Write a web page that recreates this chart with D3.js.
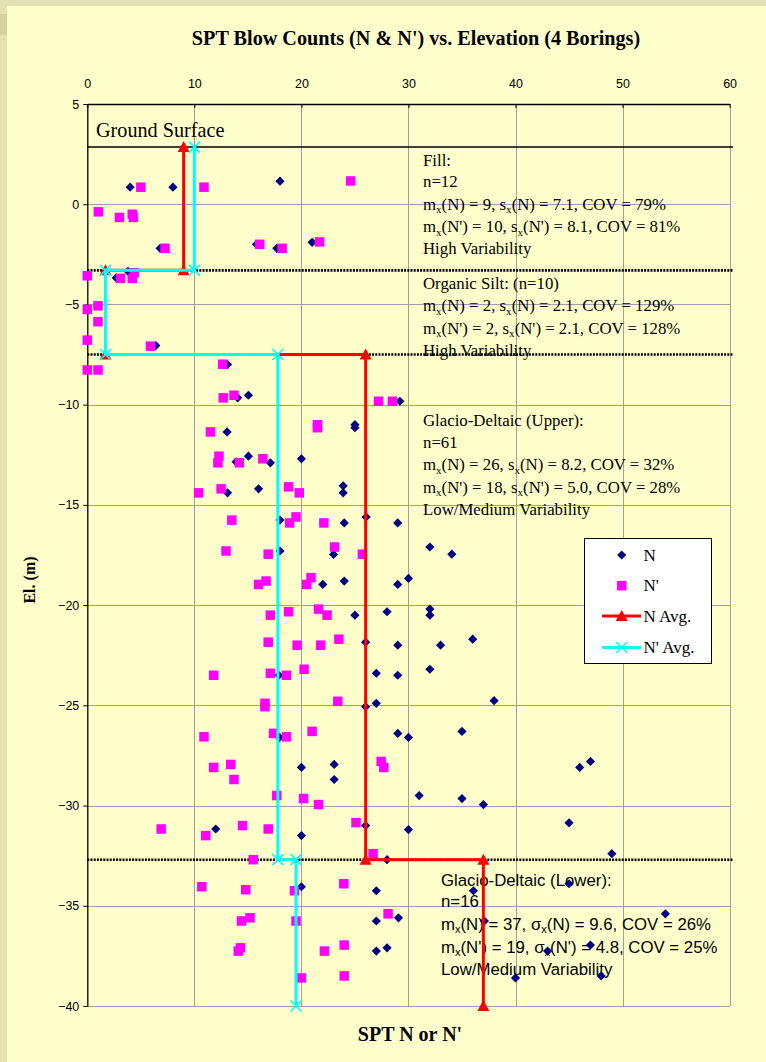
<!DOCTYPE html>
<html>
<head>
<meta charset="utf-8">
<script src="https://cdn.jsdelivr.net/npm/d3@7"></script>
<style>
  html, body { margin: 0; padding: 0; background: #ffffcc; }
  svg { display: block; }
</style>
</head>
<body>
<script>
// SPT blow counts (N, N') against elevation for four borings.
// N: raw blow counts (x) with elevation in metres (y)
const nBlows = [
  4, 8, 18, 21, 6.8, 15.8, 17.7, 2.7, 3.8,
  0, 1, 0, 1, 0, 6.4, 0, 1,
  13.1, 14.05, 15.05, 29.2, 25, 25, 13.06, 15.05, 13.9, 17.1, 20, 13.1, 16, 23.9, 23.9,
  18, 24, 26.05, 29, 32, 18, 23, 34.05, 22, 24, 29, 30, 25, 28, 32, 32, 26, 29, 33, 36,
  17.9, 27, 29, 32, 26, 27, 38, 29, 30, 35, 17.95, 20, 23.06, 23.06, 46, 47, 31, 35, 37,
  12, 20, 26, 30, 45, 49,
  28, 36.07, 45, 37.1, 54, 47, 43, 40, 48, 20, 27, 27, 29.07, 27, 28
];
const nElev = [
  0.85, 0.85, 1.15, -1.9, -2.2, -2.0, -2.2, -3.67, -3.35,
  -3.57, -5.05, -5.25, -5.85, -6.8, -7.05, -8.27, -8.27,
  -8.0, -9.66, -9.53, -9.83, -11.0, -11.15, -11.36, -12.57, -12.85, -12.9, -12.7, -14.4, -14.2, -14.05, -14.4,
  -15.76, -15.9, -15.6, -15.9, -17.1, -17.3, -17.47, -17.46, -18.97, -18.8, -18.97, -18.67, -20.5, -20.33, -20.2, -20.5, -21.85, -22.0, -22.0, -21.7,
  -23.5, -23.4, -23.5, -23.2, -25.07, -24.9, -24.77, -26.4, -26.6, -26.3, -26.6, -28.1, -27.95, -28.7, -28.1, -27.8, -29.5, -29.65, -29.95,
  -31.17, -31.5, -31.0, -31.2, -30.86, -32.4,
  -32.7, -34.25, -33.9, -35.76, -35.4, -36.96, -37.26, -38.6, -38.5, -34.05, -34.25, -35.76, -35.6, -37.26, -37.1
];

// N': corrected blow counts
const nPrimeBlows = [
  5, 10.9, 24.6, 1.03, 3.0, 4.2, 4.3, 7.26, 16.1, 18.2, 21.7,
  4.4, 3.1, 4.2, 0, 1, 0, 1, 0, 5.9, 0, 1,
  12.65, 12.7, 13.7, 27.2, 28.5, 21.5, 21.5, 11.5, 12.3, 12.2, 14.2, 16.4, 10.4, 12.5, 18.8, 19.8,
  13.5, 19.5, 18.9, 22.1, 12.96, 16.9, 23.1, 25.7, 16.7, 16.0, 20.9, 20.5, 17.1, 18.8, 21.6, 22.4,
  16.9, 19.6, 21.8, 23.5, 11.8, 17.1, 18.6, 20.25, 16.6, 16.6, 23.4, 10.9, 17.4, 18.6, 21.0,
  11.8, 13.4, 13.7, 17.7, 20.2, 21.6, 27.45, 27.7, 6.9, 11.06, 14.5, 16.9, 25.1, 26.7,
  15.5, 10.7, 14.8, 19.35, 23.96, 14.4, 15.2, 19.5, 28.1, 14.3, 14.1, 22.15, 24.0, 20.0, 24.0
];
const nPrimeElev = [
  0.85, 0.85, 1.16, -0.38, -0.66, -0.5, -0.66, -2.2, -2.0, -2.2, -1.88,
  -3.42, -3.7, -3.7, -3.57, -5.07, -5.25, -5.86, -6.78, -7.08, -8.27, -8.27,
  -7.98, -9.66, -9.53, -9.83, -9.83, -11.0, -11.15, -11.36, -12.57, -12.9, -12.9, -12.7, -14.4, -14.2, -14.1, -14.4,
  -15.76, -15.6, -15.9, -15.9, -17.3, -17.46, -17.1, -17.46, -18.8, -18.97, -18.63, -18.97, -20.5, -20.33, -20.2, -20.5,
  -21.85, -22.0, -22.0, -21.7, -23.5, -23.4, -23.5, -23.2, -24.9, -25.07, -24.8, -26.57, -26.4, -26.57, -26.3,
  -28.1, -27.95, -28.7, -29.5, -29.65, -29.95, -27.8, -28.1, -31.17, -31.5, -31.0, -31.17, -30.85, -32.4,
  -32.7, -34.05, -34.2, -34.25, -33.9, -35.76, -35.6, -35.76, -35.4, -37.1, -37.26, -37.26, -36.96, -38.6, -38.5
];

// Layer averages drawn as step lines
const avgElev      = [2.85, -3.3, -3.3, -7.5, -7.5, -32.7, -32.7, -40];
const nAvg         = [9, 9, 1.7, 1.7, 26, 26, 37, 37];
const nPrimeAvg    = [10, 10, 1.7, 1.7, 17.8, 17.8, 19.5, 19.5];

// Layer boundaries
const groundSurface = 2.85;
const layerBounds = [-3.3, -7.5, -32.7];

// Axis ticks
const xTicks = [0, 10, 20, 30, 40, 50, 60];
const yTicks = [5, 0, -5, -10, -15, -20, -25, -30, -35, -40];

// Layer statistics text
const fillText = ["Fill:", "n=12", "m_x(N) = 9, s_x(N) = 7.1, COV = 79%", "m_x(N') = 10, s_x(N') = 8.1, COV = 81%", "High Variability"];
const siltText = ["Organic Silt: (n=10)", "m_x(N) = 2, s_x(N) = 2.1, COV = 129%", "m_x(N') = 2, s_x(N') = 2.1, COV = 128%", "High Variability"];
const upperText = ["Glacio-Deltaic (Upper):", "n=61", "m_x(N) = 26, s_x(N) = 8.2, COV = 32%", "m_x(N') = 18, s_x(N') = 5.0, COV = 28%", "Low/Medium Variability"];
const lowerText = ["Glacio-Deltaic (Lower):", "n=16", "m_x(N) = 37, σ_x(N) = 9.6, COV = 26%", "m_x(N') = 19, σ_x(N') = 4.8, COV = 25%", "Low/Medium Variability"];

const legendLabels = ["N", "N'", "N Avg.", "N' Avg."];

const W = 766, H = 1062;
const serif = "'Liberation Serif', 'Times New Roman', serif";
const sans = "'Liberation Sans', Arial, sans-serif";

const svg = d3.select("body").append("svg").attr("width", W).attr("height", H);

// page frame
svg.append("rect").attr("width", W).attr("height", H).attr("fill", "#ffffcc");
svg.append("rect").attr("x", 0).attr("y", 0).attr("width", W).attr("height", 6).attr("fill", "#e4e1b3");
svg.append("rect").attr("x", 0).attr("y", 0).attr("width", 7).attr("height", H).attr("fill", "#e4e1b3");
svg.append("rect").attr("x", 0).attr("y", 14).attr("width", 7).attr("height", 21).attr("fill", "#d5d2a2");

const x = d3.scaleLinear().domain([0, 60]).range([87.3, 729.6]);
const y = d3.scaleLinear().domain([5, -40]).range([104, 1006]);

// grid
const grid = svg.append("g").attr("stroke", "#a0a0a0").attr("stroke-width", 1).attr("shape-rendering", "crispEdges");
grid.selectAll("line.v").data(xTicks.slice(1)).join("line")
  .attr("x1", d => Math.round(x(d)) + 0.5).attr("x2", d => Math.round(x(d)) + 0.5)
  .attr("y1", y(5)).attr("y2", y(-40));
grid.selectAll("line.h").data(yTicks.slice(1)).join("line")
  .attr("x1", x(0)).attr("x2", x(60))
  .attr("y1", d => Math.round(y(d)) + 0.5).attr("y2", d => Math.round(y(d)) + 0.5);

// axes
const xAxis = d3.axisTop(x).tickValues(xTicks).tickSizeInner(-4).tickSizeOuter(0).tickPadding(16.5);
const gx = svg.append("g").attr("transform", `translate(0,${y(5)})`).call(xAxis);
const yAxis = d3.axisLeft(y).tickValues(yTicks).tickSizeInner(4).tickSizeOuter(0).tickPadding(4);
const gy = svg.append("g").attr("transform", `translate(${x(0)},0)`).call(yAxis);
[gx, gy].forEach(g => {
  g.selectAll("path").attr("stroke", "#000").attr("stroke-width", 1.3);
  g.selectAll("line").attr("stroke", "#000");
  g.selectAll("text").attr("font-family", sans).attr("font-size", 12.5).attr("fill", "#000");
});

// titles
svg.append("text").attr("x", 416).attr("y", 45).attr("text-anchor", "middle")
  .attr("font-family", serif).attr("font-weight", "bold").attr("font-size", 20.2)
  .text("SPT Blow Counts (N & N') vs. Elevation (4 Borings)");
svg.append("text").attr("transform", "translate(35,580) rotate(-90)").attr("text-anchor", "middle")
  .attr("font-family", serif).attr("font-weight", "bold").attr("font-size", 16).text("El. (m)");
svg.append("text").attr("x", 410).attr("y", 1041).attr("text-anchor", "middle")
  .attr("font-family", serif).attr("font-weight", "bold").attr("font-size", 20).text("SPT N or N'");

// statistics text blocks
function textBlock(lines, x0, baselines, family, size) {
  const g = svg.append("g").attr("font-family", family).attr("font-size", size).attr("fill", "#000");
  lines.forEach((line, i) => {
    const t = g.append("text").attr("x", x0).attr("y", baselines[i]);
    const parts = line.split("_x");
    parts.forEach((p, j) => {
      if (j > 0) {
        t.append("tspan").attr("dy", 3.5).attr("font-size", size * 0.66).text("x");
        t.append("tspan").attr("dy", -3.5).text(p);
      } else {
        t.append("tspan").text(p);
      }
    });
  });
}
svg.append("text").attr("x", 96).attr("y", 137).attr("font-family", serif).attr("font-size", 20.2).text("Ground Surface");
textBlock(fillText, 423, [165.5, 187, 209.5, 232, 254], serif, 16.8);
textBlock(siltText, 423, [289, 311, 333.5, 356], serif, 16.8);
textBlock(upperText, 423, [425.5, 447.5, 470, 492.5, 514.5], serif, 16.8);
textBlock(lowerText, 441, [886, 907, 929.5, 952.5, 975], sans, 16.8);

// ground surface and layer boundaries
svg.append("line").attr("x1", x(0)).attr("x2", 733).attr("y1", y(groundSurface)).attr("y2", y(groundSurface))
  .attr("stroke", "#000").attr("stroke-width", 1.5);
svg.selectAll("line.bound").data(layerBounds).join("line")
  .attr("x1", x(0)).attr("x2", 733).attr("y1", d => y(d)).attr("y2", d => y(d))
  .attr("stroke", "#000").attr("stroke-width", 2.6).attr("stroke-dasharray", "2,1.2");

// markers
const diamond = (cx, cy, r) => `M${cx},${cy - r}L${cx + r},${cy}L${cx},${cy + r}L${cx - r},${cy}Z`;
const triangle = (cx, cy) => `M${cx},${cy - 6}L${cx + 6},${cy + 5}L${cx - 6},${cy + 5}Z`;
const cross = (cx, cy, r) => `M${cx - r},${cy - r}L${cx + r},${cy + r}M${cx - r},${cy + r}L${cx + r},${cy - r}`;

const nData = nBlows.map((v, i) => [v, nElev[i]]);
const npData = nPrimeBlows.map((v, i) => [v, nPrimeElev[i]]);

svg.append("g").selectAll("path").data(nData).join("path")
  .attr("d", d => diamond(x(d[0]), y(d[1]), 4.6)).attr("fill", "#000080");
svg.append("g").selectAll("rect").data(npData).join("rect")
  .attr("x", d => x(d[0]) - 4.75).attr("y", d => y(d[1]) - 4.75)
  .attr("width", 9.5).attr("height", 9.5).attr("fill", "#ff00ff");

// average step lines
const line = d3.line().x(d => x(d[0])).y(d => y(d[1]));
const nAvgData = nAvg.map((v, i) => [v, avgElev[i]]);
const npAvgData = nPrimeAvg.map((v, i) => [v, avgElev[i]]);

svg.append("path").datum(nAvgData).attr("d", line).attr("fill", "none").attr("stroke", "#ff0000").attr("stroke-width", 3);
svg.append("g").selectAll("path").data(nAvgData).join("path")
  .attr("d", d => triangle(x(d[0]), y(d[1]))).attr("fill", "#ff0000");
svg.append("path").datum(npAvgData).attr("d", line).attr("fill", "none").attr("stroke", "#00ffff").attr("stroke-width", 3);
svg.append("g").selectAll("path").data(npAvgData).join("path")
  .attr("d", d => cross(x(d[0]), y(d[1]), 5.5)).attr("stroke", "#00ffff").attr("stroke-width", 1.6).attr("fill", "none");

// legend
const lg = svg.append("g");
lg.append("rect").attr("x", 584.5).attr("y", 538.5).attr("width", 127).attr("height", 125)
  .attr("fill", "#fff").attr("stroke", "#000").attr("stroke-width", 1);
const rowsY = [555, 585.7, 616, 647.5];
const mx = 621.7;
lg.append("path").attr("d", diamond(mx, rowsY[0], 4.6)).attr("fill", "#000080");
lg.append("rect").attr("x", mx - 4.75).attr("y", rowsY[1] - 4.75).attr("width", 9.5).attr("height", 9.5).attr("fill", "#ff00ff");
lg.append("line").attr("x1", 602).attr("x2", 641).attr("y1", rowsY[2]).attr("y2", rowsY[2]).attr("stroke", "#ff0000").attr("stroke-width", 3);
lg.append("path").attr("d", triangle(mx, rowsY[2])).attr("fill", "#ff0000");
lg.append("line").attr("x1", 602).attr("x2", 641).attr("y1", rowsY[3]).attr("y2", rowsY[3]).attr("stroke", "#00ffff").attr("stroke-width", 3);
lg.append("path").attr("d", cross(mx, rowsY[3], 5.5)).attr("stroke", "#00ffff").attr("stroke-width", 1.6).attr("fill", "none");
lg.selectAll("text").data(legendLabels).join("text")
  .attr("x", 643.5).attr("y", (d, i) => rowsY[i] + 5.5)
  .attr("font-family", serif).attr("font-size", 17).text(d => d);
</script>
</body>
</html>
